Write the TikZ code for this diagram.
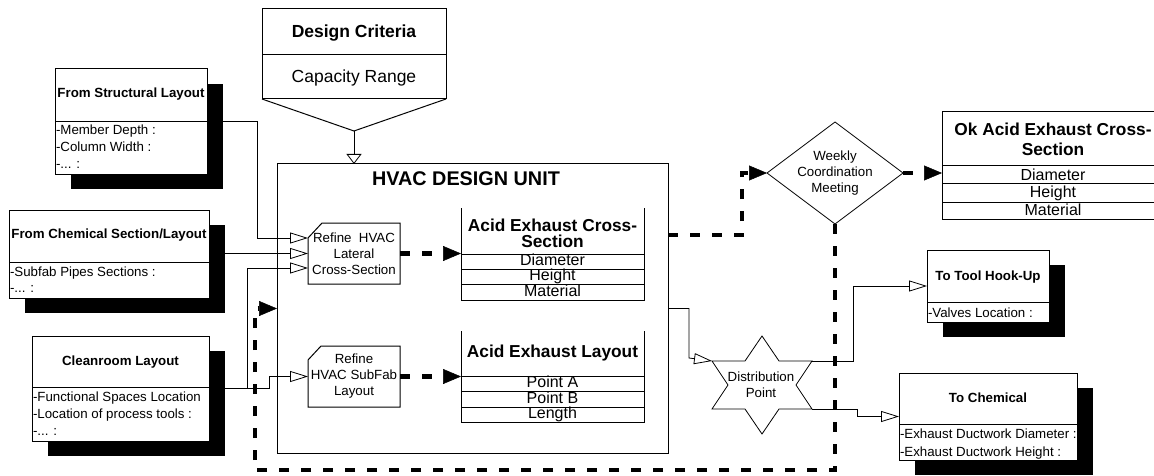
\documentclass[tikz,border=0pt]{standalone}
\usepackage{fontspec}
\setmainfont{Liberation Sans}
\usetikzlibrary{arrows.meta,shapes.geometric,shadows}
\newcommand\fsm{\fontsize{13.3}{16}\selectfont}
\newcommand\fmd{\fontsize{17.3}{15.5}\selectfont}
\newcommand\frow{\fontsize{16}{16}\selectfont}
\newcommand\fok{\fontsize{17.3}{20}\selectfont}
\newcommand\fdc{\fontsize{17.5}{20}\selectfont}
\newcommand\fhv{\fontsize{19.8}{22}\selectfont}
\begin{document}
\begin{tikzpicture}[x=1pt,y=-1pt,
  every node/.style={inner sep=0pt, outer sep=0pt},
  box/.style={draw, line width=1pt, fill=white},
  shbox/.style={box, drop shadow={shadow xshift=16pt, shadow yshift=-15pt, fill=black, opacity=1}},
  ttl/.style={font={\fsm\bfseries}},
  itm/.style={font=\fsm, anchor=base west},
  rowtxt/.style={font=\frow, anchor=base},
  thinline/.style={line width=0.8pt},
  outl/.style={line width=1pt},
  conn/.style={thinline, -{Triangle[open, length=18pt, width=11pt]}},
  dline/.style={line width=4.5pt, dash pattern=on 10pt off 12pt},
  dconn/.style={dline, -{Triangle[length=18pt, width=15pt, line width=0.5pt]}},
]
\useasboundingbox (0,0) rectangle (1154,476);
\clip (0,0) rectangle (1154,476);

% ---------- left input boxes ----------
\node[shbox, minimum width=152, minimum height=105] (str) at (131,121.5) {};
\draw[outl] (55,122) -- (207,122);
\node[ttl] (strt) at (131,94.5) {From Structural Layout};
\node[itm] (str1) at (56,135) {-Member Depth :};
\node[itm] (str2) at (56,152) {-Column Width :};
\node[itm] (str3) at (56,168) {-... :};

\node[shbox, minimum width=200, minimum height=88] (chem) at (109,254) {};
\draw[outl] (9,262) -- (209,262);
\node[ttl] (chemt) at (109,235) {From Chemical Section/Layout};
\node[itm] (chem1) at (10,276) {-Subfab Pipes Sections :};
\node[itm] (chem2) at (10,292) {-... :};

\node[shbox, minimum width=177, minimum height=105] (clean) at (120.5,388.5) {};
\draw[outl] (32,387) -- (209,387);
\node[ttl] (cleant) at (120.5,362) {Cleanroom Layout};
\node[itm] (clean1) at (33,401) {-Functional Spaces Location};
\node[itm] (clean2) at (33,418) {-Location of process tools :};
\node[itm] (clean3) at (33,435) {-... :};

% ---------- design criteria ----------
\node[box, minimum width=184, minimum height=90] (dc) at (354,54) {};
\draw[outl] (262,55) -- (446,55);
\draw[outl] (dc.south west) -- (354,131) coordinate (dctip) -- (dc.south east);
\node[font={\fdc\bfseries}, anchor=base] (dct) at (354,37.5) {Design Criteria};
\node[font=\fdc, anchor=base] (dcc) at (354,83) {Capacity Range};

% ---------- HVAC design unit ----------
\node[draw, line width=1pt, minimum width=391, minimum height=289] (hvac) at (472.5,308.5) {};
\node[font={\fhv\bfseries}] (hvt) at (466,178.5) {HVAC DESIGN UNIT};

\node[minimum width=92, minimum height=61, font=\fsm, align=center] (rl) at (354,253.5) {Refine~ HVAC\\Lateral\\Cross-Section};
\draw[outl] (rl.south west) -- ([yshift=-15pt]rl.north west) -- ([xshift=14pt]rl.north west) -- (rl.north east) -- (rl.south east) -- cycle;

\node[minimum width=92, minimum height=61, font=\fsm, align=center] (rs) at (354,376.5) {Refine\\HVAC SubFab\\Layout};
\draw[outl] (rs.south west) -- ([yshift=-14pt]rs.north west) -- ([xshift=13pt]rs.north west) -- (rs.north east) -- (rs.south east) -- cycle;

% acid exhaust cross-section
\node[minimum width=183, minimum height=92] (ace) at (552.5,254) {};
\draw[outl] (ace.north west) -- (ace.south west) -- (ace.south east) -- (ace.north east);
\draw[outl] (461,254) -- (644,254) (461,269) -- (644,269) (461,284) -- (644,284);
\node[font={\fmd\bfseries}, align=center] (acet) at (552.5,233.5) {Acid Exhaust Cross-\\Section};
\node[rowtxt] (ace1) at (552.5,265.5) {Diameter};
\node[rowtxt] (ace2) at (552.5,280.5) {Height};
\node[rowtxt] (ace3) at (552.5,296) {Material};

% acid exhaust layout
\node[minimum width=183, minimum height=91] (ael) at (552.5,376.5) {};
\draw[outl] (ael.north west) -- (ael.south west) -- (ael.south east) -- (ael.north east);
\draw[outl] (461,376) -- (644,376) (461,391) -- (644,391) (461,407) -- (644,407);
\node[font={\fmd\bfseries}, anchor=base] (aelt) at (552.5,357) {Acid Exhaust Layout};
\node[rowtxt] (ael1) at (552.5,387.5) {Point A};
\node[rowtxt] (ael2) at (552.5,403) {Point B};
\node[rowtxt] (ael3) at (552.5,418) {Length};

% ---------- right side ----------
\node[diamond, draw, line width=0.8pt, fill=white, minimum width=136, minimum height=102] (wcm) at (835,173) {};
\node[font=\fsm, align=center] (wcmt) at (835,173) {Weekly\\Coordination\\Meeting};

\node[box, minimum width=222, minimum height=107] (ok) at (1053,165.5) {};
\draw[outl] (942,166) -- (1164,166) (942,183) -- (1164,183) (942,202) -- (1164,202);
\node[font={\fok\bfseries}, align=center] (okt) at (1053,139) {Ok Acid Exhaust Cross-\\Section};
\node[rowtxt] (ok1) at (1053,180) {Diameter};
\node[rowtxt] (ok2) at (1053,197) {Height};
\node[rowtxt] (ok3) at (1053,215) {Material};

% distribution point star
\draw[thinline, fill=white] (762,336) -- (779,361) -- (812,361) -- (796,385) -- (812,409) -- (779,409) -- (762,434) -- (745,409) -- (712,409) -- (728,385) -- (712,361) -- (745,361) -- cycle;
\coordinate (dpUL) at (712,361);
\coordinate (dpUR) at (812,361);
\coordinate (dpLR) at (812,409);
\node[font=\fsm, align=center] (dpt) at (761,384.5) {Distribution\\Point};

\node[shbox, minimum width=122, minimum height=72] (tool) at (988,286) {};
\draw[outl] (927,302) -- (1049,302);
\node[ttl] (toolt) at (988,277) {To Tool Hook-Up};
\node[itm] (tool1) at (928,317) {-Valves Location :};

\node[shbox, minimum width=178, minimum height=87] (tchem) at (988,416.5) {};
\draw[outl] (899,424) -- (1077,424);
\node[ttl] (tchemt) at (988,398) {To Chemical};
\node[itm] (tchem1) at (900,438) {-Exhaust Ductwork Diameter :};
\node[itm] (tchem2) at (900,456) {-Exhaust Ductwork Height :};

% ---------- thin connectors ----------
\draw[conn] (str.east) -- (257,121.5) -- (257,238) -- ([yshift=15.5pt]rl.west);
\draw[conn] (chem.east |- rl.west) -- (rl.west);
\draw[conn] (clean.east) -- (247,388.5) -- (247,268) -- ([yshift=-14.5pt]rl.west);
\draw[conn] (clean.east) -- (269,388.5) -- (269,376.5) -- (rs.west);
\draw[thinline, -{Triangle[open, length=10pt, width=15pt]}] (dctip) -- (dctip |- hvac.north);
\draw[conn] (hvac.east) -- (689,308.5) -- (689,358) -- (dpUL);
\draw[conn] (dpUR) -- (853,361) |- (tool.west);
\draw[conn] (dpLR) -- (857,409) |- (tchem.west);

% ---------- thick dashed connectors ----------
\draw[dconn] (rl.east) -- (rl.east -| ace.west);
\draw[dconn] (rs.east) -- (rs.east -| ael.west);
\draw[dconn] ([yshift=73.5pt]hvac.east) -- (742,235) |- (wcm.west);
\draw[dconn] (wcm.east) -- (wcm.east -| ok.west);
\draw[dconn] (wcm.south) |- (255,470) |- (hvac.west);
\end{tikzpicture}
\end{document}
